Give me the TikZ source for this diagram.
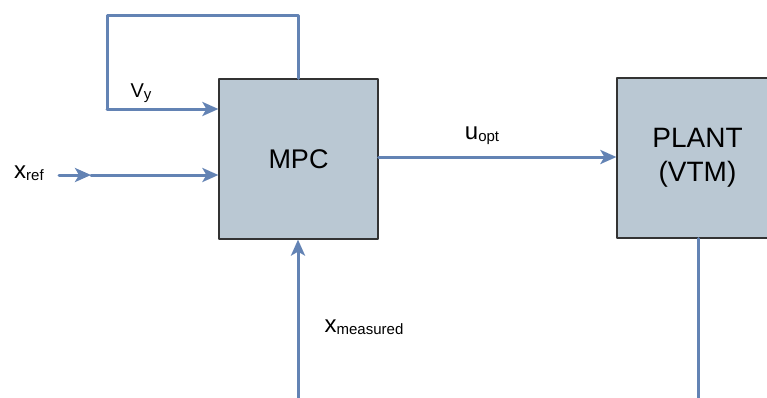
\documentclass[tikz,border=0pt]{standalone}
\usepackage{fontspec}
\setmainfont{Liberation Sans}
\usetikzlibrary{arrows.meta,positioning}
\definecolor{flowblue}{HTML}{6383B4}
\definecolor{boxfill}{HTML}{BAC8D3}
\newcommand{\sig}[3]{{\fontsize{#3}{#3}\selectfont #1}\raisebox{-2pt}{\fontsize{15}{15}\selectfont #2}}
\begin{document}
\begin{tikzpicture}[x=1pt, y=-1pt, line join=round, line cap=round,
		flow/.style={draw=flowblue, line width=3pt, -{Stealth[length=16pt,width=14pt,inset=4pt]}},
		wire/.style={draw=flowblue, line width=3pt},
		block/.style={draw=black!80, line width=1.2pt, fill=boxfill, align=center, inner sep=0pt}]
		\useasboundingbox (0,0) rectangle (767,397);
		% blocks
		\node[block, minimum width=159pt, minimum height=160pt, font=\fontsize{27}{32}\selectfont] (mpc) at (298.5,159) {MPC};
		\node[block, minimum width=161pt, minimum height=160pt, font=\fontsize{28}{34}\selectfont] (plant) at (697.5,158) {PLANT\\(VTM)};
		% loop on top of MPC
		\coordinate (top) at (298,15);
		\coordinate (topl) at (107,15);
		\coordinate (botl) at (107,109);
		\draw[wire] (mpc.north -| top) -- (top) -- (topl) -- (botl);
		\draw[flow] (botl) -- (mpc.west |- botl);
		% reference input
		\coordinate (xin) at (59,175);
		\coordinate (xmid) at (91,175);
		\draw[flow] (xin) -- (xmid);
		\draw[flow] (xmid) -- (mpc.west |- xmid);
		% control signal
		\draw[flow] (mpc.east |- 0,157) -- (plant.west |- 0,157);
		% measurement feedback
		\coordinate (br) at (698,399.5);
		\coordinate (bl) at (298,399.5);
		\draw[wire] (plant.south -| br) -- (br) -- (bl);
		\draw[flow] (bl) -- (mpc.south -| bl);
		% labels
		\node (vy) at (141,93) {\sig{V}{y}{20}};
		\node (xref) at (29,173) {\sig{x}{ref}{24}};
		\node (uopt) at (482,136) {\sig{u}{opt}{24}};
		\node (xmeas) at (364,327) {\sig{x}{measured}{24}};
	\end{tikzpicture}
\end{document}
